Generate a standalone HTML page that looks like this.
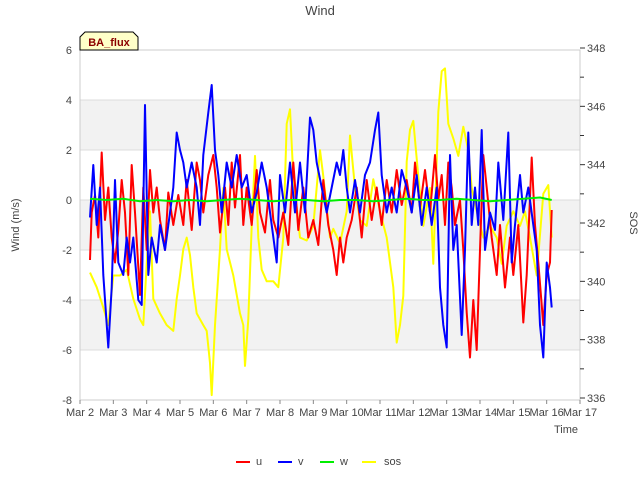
<!DOCTYPE html>
<html><head><meta charset="utf-8"><style>
body{margin:0;background:#fff}
svg{font-family:"Liberation Sans","DejaVu Sans",sans-serif}
</style></head><body>
<svg id="c" width="640" height="480"></svg>
<script>
const dayTicks=["Mar 2","Mar 3","Mar 4","Mar 5","Mar 6","Mar 7","Mar 8","Mar 9","Mar 10","Mar 11","Mar 12","Mar 13","Mar 14","Mar 15","Mar 16","Mar 17"];
const leftTicks=[6,4,2,0,-2,-4,-6,-8];
const rightTicks=[348,346,344,342,340,338,336];
const uT=[2.3,2.35,2.45,2.55,2.65,2.75,2.85,2.95,3.05,3.15,3.25,3.35,3.45,3.55,3.65,3.8,3.9,4.0,4.1,4.2,4.3,4.4,4.55,4.65,4.8,4.95,5.1,5.2,5.35,5.5,5.6,5.7,5.85,6.0,6.1,6.2,6.35,6.45,6.55,6.65,6.8,6.9,7.0,7.15,7.3,7.4,7.55,7.7,7.8,7.95,8.1,8.25,8.4,8.55,8.7,8.85,9.0,9.15,9.3,9.45,9.6,9.7,9.8,9.9,10.0,10.15,10.3,10.45,10.6,10.75,10.9,11.05,11.2,11.35,11.5,11.65,11.8,11.95,12.05,12.2,12.35,12.5,12.65,12.75,12.85,12.95,13.05,13.15,13.25,13.4,13.5,13.6,13.7,13.8,13.9,14.0,14.1,14.2,14.35,14.5,14.6,14.75,14.9,15.0,15.15,15.3,15.4,15.55,15.65,15.75,15.9,16.0,16.1,16.15];
const uV=[-2.4,-0.5,0.2,-1.5,1.9,-0.8,0.5,-1.5,-2.5,-1.2,0.8,-0.5,-3.0,1.4,-0.5,-3.8,0.5,-2.0,1.2,-0.5,0.5,-0.8,-2.0,0.3,-1.0,0.2,-1.0,0.8,-1.2,1.5,0.8,-0.5,1.0,1.8,0.5,-1.3,0.5,-1.0,1.5,-0.3,1.8,-1.0,0.5,-1.0,1.2,-0.5,-1.3,0.8,-0.8,-1.5,-0.5,-1.8,1.5,-1.2,0.5,-1.5,-0.8,-1.8,0.8,-1.0,-2.0,-3.0,-1.5,-2.5,-1.5,-0.8,0.5,-1.5,0.8,-0.8,0.5,-1.0,0.8,-0.5,1.2,-0.2,0.8,-0.5,1.5,-0.3,1.2,-0.5,1.8,0.0,1.0,-1.0,1.5,0.5,-1.0,0.0,-2.0,-4.5,-6.3,-4.0,-6.0,-2.0,1.8,0.5,-1.5,-3.0,-1.0,-3.5,-1.5,-3.0,-1.0,-4.9,-3.0,1.7,-1.0,-2.5,-5.0,-3.0,-2.5,-0.4];
const vT=[2.3,2.4,2.5,2.6,2.7,2.85,2.95,3.05,3.15,3.3,3.4,3.5,3.6,3.75,3.85,3.95,4.05,4.15,4.3,4.4,4.55,4.7,4.8,4.9,5.0,5.1,5.2,5.35,5.5,5.6,5.7,5.85,5.95,6.05,6.15,6.25,6.4,6.55,6.7,6.85,7.0,7.15,7.3,7.45,7.6,7.75,7.9,8.0,8.15,8.3,8.45,8.6,8.75,8.9,9.0,9.1,9.25,9.4,9.55,9.7,9.8,9.9,10.0,10.1,10.25,10.4,10.55,10.7,10.85,10.95,11.05,11.2,11.35,11.5,11.65,11.8,11.95,12.1,12.25,12.4,12.55,12.7,12.8,12.9,13.0,13.1,13.2,13.3,13.45,13.55,13.65,13.75,13.85,13.95,14.05,14.15,14.3,14.45,14.55,14.7,14.85,14.95,15.05,15.2,15.3,15.45,15.6,15.7,15.8,15.9,16.0,16.1,16.15];
const vV=[-0.7,1.4,-1.0,0.5,-3.0,-5.9,-3.5,0.8,-2.5,-3.0,-1.5,-2.5,-1.5,-4.0,-4.2,3.8,-3.0,-1.5,-2.5,-1.0,-2.0,-0.5,0.5,2.7,2.0,1.5,0.5,1.5,0.5,-1.0,1.8,3.5,4.6,2.0,1.0,-0.5,1.5,0.5,1.8,0.5,1.0,-0.5,0.3,1.5,0.5,-1.0,-2.5,1.0,-0.5,1.5,-0.5,1.5,-0.5,3.3,2.8,1.5,0.5,-0.5,0.5,1.5,1.0,2.0,0.5,-0.5,0.8,-0.5,1.0,1.5,2.8,3.5,1.0,-0.5,0.5,-0.5,1.2,0.5,-0.5,1.0,-1.0,0.5,-1.0,0.5,-3.5,-5.0,-5.9,1.8,-2.0,-1.0,-5.4,-2.0,2.7,-1.0,0.5,-1.0,2.8,-2.0,-0.5,-1.2,1.5,-0.8,2.7,-2.5,-1.0,1.0,-0.5,0.5,-1.0,-2.0,-5.0,-6.3,-2.5,-3.5,-4.3];
const wT=[2.3,2.8,3.3,3.8,4.3,4.8,5.3,5.8,6.3,6.8,7.3,7.8,8.3,8.8,9.3,9.8,10.3,10.8,11.3,11.8,12.3,12.8,13.3,13.8,14.3,14.8,15.3,15.8,16.15];
const wV=[0.05,0.0,0.05,-0.05,0.0,-0.05,0.0,-0.05,0.0,0.05,0.0,-0.05,0.0,0.0,-0.05,0.0,0.0,-0.05,0.0,0.05,0.0,0.0,0.05,0.0,-0.05,0.0,0.05,0.1,0.0];
const sT=[2.3,2.5,2.7,2.85,3.0,3.2,3.4,3.6,3.8,3.9,4.0,4.1,4.2,4.4,4.6,4.8,4.9,5.0,5.1,5.2,5.3,5.4,5.5,5.7,5.8,5.9,5.95,6.05,6.2,6.3,6.4,6.6,6.8,6.9,6.95,7.05,7.15,7.25,7.35,7.45,7.6,7.8,7.95,8.1,8.2,8.3,8.4,8.6,8.8,9.0,9.2,9.3,9.5,9.6,9.8,10.0,10.1,10.25,10.4,10.6,10.8,11.0,11.2,11.4,11.5,11.6,11.7,11.8,11.9,12.0,12.15,12.3,12.5,12.6,12.75,12.85,12.95,13.05,13.2,13.35,13.5,13.65,13.75,13.9,14.1,14.3,14.5,14.65,14.8,15.0,15.2,15.35,15.5,15.7,15.9,16.05,16.15];
const sV=[340.3,339.8,339.1,338.5,340.2,340.2,340.4,339.4,338.7,338.5,340.6,342.4,339.4,338.9,338.5,338.3,339.4,340.2,341.1,341.5,340.9,339.8,338.9,338.5,338.3,337.2,336.1,338.5,341.1,343.2,341.1,340.2,338.9,338.5,337.1,338.7,341.9,344.3,341.5,340.4,340.0,340.0,339.8,341.5,345.4,345.9,343.6,341.5,341.4,341.9,344.5,343.6,341.5,341.8,341.3,342.4,345.0,343.2,342.1,341.9,343.5,342.4,341.5,339.8,337.9,338.5,339.5,344.1,345.2,345.5,343.6,341.9,343.2,340.6,345.8,347.2,347.3,345.4,344.9,344.3,345.3,344.5,343.2,342.4,341.5,341.9,341.5,340.6,341.9,342.4,341.9,342.4,341.5,340.2,343.0,343.3,341.5];

const L=80,R=580,T=50,B=400;
const x=d=>L+(d-2)*(R-L)/15;
const yL=v=>200-25*v;
const yR=v=>398-(v-336)*350/12;
const svg=document.getElementById('c');
const NS='http://www.w3.org/2000/svg';
function mk(tag,attrs,parent){const e=document.createElementNS(NS,tag);for(const k in attrs)e.setAttribute(k,attrs[k]);(parent||svg).appendChild(e);return e;}

mk('rect',{x:0,y:0,width:640,height:480,fill:'#fff'});
// bands
[[4,2],[0,-2],[-4,-6]].forEach(b=>{
 const r=mk('rect',{x:L,y:yL(b[0]),width:R-L,height:yL(b[1])-yL(b[0]),fill:'#f2f2f2'});
 
 
});
leftTicks.forEach(v=>{
 const l=mk('line',{x1:L,x2:R,y1:yL(v),y2:yL(v),stroke:'#dcdcdc','stroke-width':1});
 
 
 const t=mk('text',{x:72,y:yL(v)+4,'text-anchor':'end','font-size':11,fill:'#444'});
 t.textContent=v;
 
 
});
mk('rect',{x:L,y:T,width:R-L,height:B-T,fill:'none',stroke:'#ccc'});
dayTicks.forEach((s,i)=>{
 mk('line',{x1:x(2+i),x2:x(2+i),y1:B,y2:B+4,stroke:'#888'});
 const t=mk('text',{x:x(2+i),y:B+16,'text-anchor':'middle','font-size':11,fill:'#444'});
 t.textContent=s;
 
 
});
for(let v=336;v<=348;v++){
 mk('line',{x1:R,x2:R+(v%2?4:5),y1:yR(v),y2:yR(v),stroke:'#333'});
}
rightTicks.forEach(v=>{
 const t=mk('text',{x:587,y:yR(v)+4,'font-size':11,fill:'#444'});
 t.textContent=v;
 
 
});
function line(ts,vs,fy,col,name){
 const p=mk('polyline',{points:ts.map((t,i)=>x(t).toFixed(1)+','+fy(vs[i]).toFixed(1)).join(' '),fill:'none',stroke:col,'stroke-width':2,'stroke-linejoin':'round'});
 
 
}
line(sT,sV,yR,'#ffff00','series-sos');
line(uT,uV,yL,'#ff0000','series-u');
line(vT,vV,yL,'#0000ff','series-v');
line(wT,wV,yL,'#00ee00','series-w');
</script>
<svg width="640" height="480" style="position:absolute;left:0;top:0">
<text x="320" y="15" text-anchor="middle" font-size="13" fill="#444">Wind</text>
<text transform="translate(19,225) rotate(-90)" text-anchor="middle" font-size="11" fill="#444">Wind (m/s)</text>
<text transform="translate(630,223) rotate(90)" text-anchor="middle" font-size="11" fill="#444">SOS</text>
<text x="578" y="433" text-anchor="end" font-size="11" fill="#444">Time</text>
<g>
<path d="M80,50 L80,37 L85,32 L133,32 L138,37 L138,50 Z" fill="#ffffc8" stroke="#000"/>
<text x="109" y="46" text-anchor="middle" font-size="11" font-weight="bold" fill="#8b0000">BA_flux</text>
</g>
<g font-size="11" fill="#444">
<line x1="236" x2="250" y1="462" y2="462" stroke="#ff0000" stroke-width="2"/><text x="256" y="465">u</text>
<line x1="278" x2="292" y1="462" y2="462" stroke="#0000ff" stroke-width="2"/><text x="298" y="465">v</text>
<line x1="320" x2="334" y1="462" y2="462" stroke="#00ee00" stroke-width="2"/><text x="340" y="465">w</text>
<line x1="362" x2="376" y1="462" y2="462" stroke="#ffff00" stroke-width="2"/><text x="384" y="465">sos</text>
</g>
</svg>
</body></html>
